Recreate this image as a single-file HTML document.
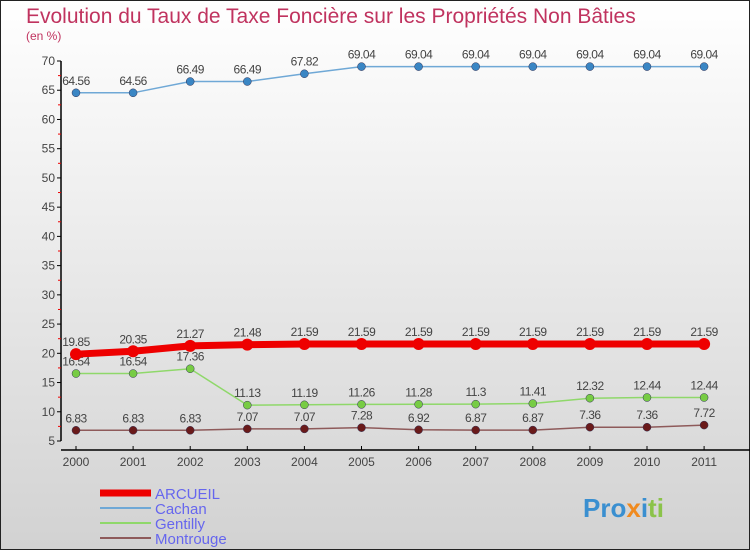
<!DOCTYPE html>
<html><head><meta charset="utf-8"><style>
body{margin:0;width:750px;height:550px;overflow:hidden;font-family:"Liberation Sans",sans-serif}
svg{display:block}
</style></head><body>
<svg width="750" height="550" xmlns="http://www.w3.org/2000/svg">
<defs><linearGradient id="bg" x1="0" y1="0" x2="0" y2="1"><stop offset="0" stop-color="#ffffff"/><stop offset="1" stop-color="#d2d2d2"/></linearGradient></defs>
<rect x="0.5" y="0.5" width="749" height="549" fill="url(#bg)" stroke="#222"/>
<text x="26" y="23" font-size="21" fill="#c0335f">Evolution du Taux de Taxe Foncière sur les Propriétés Non Bâties</text>
<text x="26" y="40" font-size="12" fill="#c0335f">(en %)</text>
<g id="axes"></g>
<g id="series"></g>
<g id="legend"></g>
<text x="583" y="517" font-size="26" font-weight="bold" fill="#3a8fd0">Pro<tspan fill="#f08a1e">x</tspan><tspan fill="#3a8fd0">i</tspan><tspan fill="#8bc34a">ti</tspan></text>
</svg>
<script>
const years=[2000,2001,2002,2003,2004,2005,2006,2007,2008,2009,2010,2011];
const arcueil=[19.85,20.35,21.27,21.48,21.59,21.59,21.59,21.59,21.59,21.59,21.59,21.59];
const cachan=[64.56,64.56,66.49,66.49,67.82,69.04,69.04,69.04,69.04,69.04,69.04,69.04];
const gentilly=[16.54,16.54,17.36,11.13,11.19,11.26,11.28,11.3,11.41,12.32,12.44,12.44];
const montrouge=[6.83,6.83,6.83,7.07,7.07,7.28,6.92,6.87,6.87,7.36,7.36,7.72];
const yTicks=[5,10,15,20,25,30,35,40,45,50,55,60,65,70];
const NS="http://www.w3.org/2000/svg";
const X=i=>76+i*57.1;
const Y=v=>61+(70-v)*(380/65);
function mk(p,t,a){const e=document.createElementNS(NS,t);for(const k in a)e.setAttribute(k,a[k]);p.appendChild(e);return e;}
const ax=document.getElementById('axes');
let l=mk(ax,'line',{x1:61,y1:Y(70),x2:61,y2:Y(5),stroke:'#000','stroke-width':1.5});


yTicks.forEach(v=>{
 mk(ax,'line',{x1:57,y1:Y(v),x2:61,y2:Y(v),stroke:'#000'});
 if(v<70)mk(ax,'line',{x1:58,y1:Y(v+2.5),x2:61,y2:Y(v+2.5),stroke:'#e00'});
 const t=mk(ax,'text',{x:55,y:Y(v)+4,'font-size':12,fill:'#444','text-anchor':'end'});
 t.textContent=v;
 
 
});
l=mk(ax,'line',{x1:61,y1:450,x2:750,y2:450,stroke:'#000','stroke-width':1.5});


years.forEach((y,i)=>{
 mk(ax,'line',{x1:X(i),y1:446,x2:X(i),y2:450,stroke:'#000'});
 const t=mk(ax,'text',{x:X(i),y:466,'font-size':12,fill:'#444','text-anchor':'middle'});
 t.textContent=y;
 
 
});
const S=[
 {n:'cachan',d:cachan,c:'#6fa8d6',p:'#3a86c4',w:1.5,r:4},
 {n:'gentilly',d:gentilly,c:'#8fd86a',p:'#77cc44',w:1.5,r:4},
 {n:'montrouge',d:montrouge,c:'#8e5a5a',p:'#6a1a1a',w:1.5,r:4},
 {n:'arcueil',d:arcueil,c:'#ee0000',p:'#ee0000',w:7,r:6}
];
const sg=document.getElementById('series');
S.forEach(s=>{
 const g=mk(sg,'g',{});
 
 
 mk(g,'polyline',{points:s.d.map((v,i)=>X(i)+','+Y(v)).join(' '),fill:'none',stroke:s.c,'stroke-width':s.w});
 s.d.forEach((v,i)=>{
  const c=mk(g,'circle',{cx:X(i),cy:Y(v),r:s.r,fill:s.p,stroke:s.n==='arcueil'?'none':'#335','stroke-width':0.5});
  
  
  const t=mk(g,'text',{x:X(i),y:Y(v)-8,'font-size':12,fill:'#444','text-anchor':'middle','letter-spacing':'-0.5'});
  t.textContent=v;
  
  
 });
});
const lg=document.getElementById('legend');
[['ARCUEIL','#ee0000',7],['Cachan','#6fa8d6',2],['Gentilly','#8fd86a',2],['Montrouge','#8e5a5a',2]].forEach((e,i)=>{
 const y=493+i*15;
 const g=mk(lg,'g',{});
 
 
 mk(g,'line',{x1:100,y1:y,x2:151,y2:y,stroke:e[1],'stroke-width':e[2]});
 const t=mk(g,'text',{x:155,y:y+6,'font-size':15,fill:'#6666ee'});
 t.textContent=e[0];
});
</script>
</body></html>
